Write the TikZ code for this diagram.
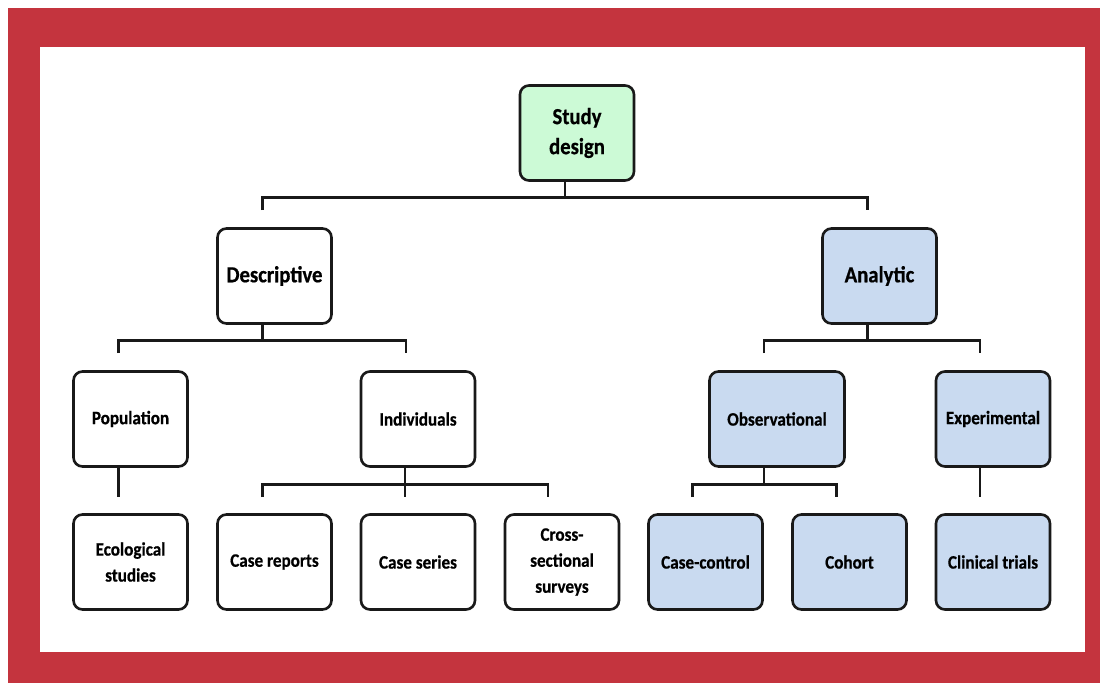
\documentclass[tikz,border=0pt]{standalone}
\usepackage{fontspec}
\setmainfont{Carlito}
\newfontfamily\condfont[FakeStretch=0.9,FakeBold=0.6]{Carlito}
\usetikzlibrary{calc}
\definecolor{frame}{RGB}{196,52,62}
\definecolor{sdgreen}{RGB}{204,250,214}
\definecolor{anblue}{RGB}{201,218,240}
\tikzset{
  box/.style={draw=black!90, line width=2.6pt, rounded corners=9pt, minimum width=114pt, minimum height=95pt, align=center, inner sep=2pt, font=\condfont\bfseries\fontsize{19}{26}\selectfont},
  big/.style={font=\condfont\bfseries\fontsize{23}{30}\selectfont},
  conn/.style={draw=black!90, line width=2.6pt},
}
\begin{document}
\begin{tikzpicture}[x=1pt,y=-1pt]
\useasboundingbox (0,0) rectangle (1104,683);
\fill[white] (0,0) rectangle (1104,683);
\fill[frame] (8,8) rectangle (1100,683);
\fill[white] (40,47) rectangle (1085,652);
% level 0
\node[box,big,fill=sdgreen] (sd) at (577,133) {Study\\design};
% level 1
\node[box,big] (desc) at (274.5,276) {Descriptive};
\node[box,big,fill=anblue] (ana) at (879.5,276) {Analytic};
% level 2
\node[box] (pop) at (130.5,419) {Population};
\node[box] (ind) at (418,419) {Individuals};
\node[box,fill=anblue,minimum width=135pt] (obs) at (777,419) {Observational};
\node[box,fill=anblue] (exp) at (993,419) {Experimental};
% level 3
\node[box] (eco) at (130.5,562) {Ecological\\studies};
\node[box] (cr) at (274.5,562) {Case reports};
\node[box] (cs) at (418,562) {Case series};
\node[box] (css) at (562,562) {Cross-\\sectional\\surveys};
\node[box,fill=anblue] (cc) at (705.5,562) {Case-control};
\node[box,fill=anblue] (coh) at (849.5,562) {Cohort};
\node[box,fill=anblue] (ct) at (993,562) {Clinical trials};
% connectors
\draw[conn] ($(sd.south)+(-12,0)$) -- ++(0,15);
\draw[conn] ($(desc.north)+(-12,-17)$) -- ++(0,-13) -| ($(ana.north)+(-12,-17)$);
\draw[conn] ($(desc.south)+(-12,0)$) -- ++(0,15);
\draw[conn] ($(pop.north)+(-12,-17)$) -- ++(0,-13) -| ($(ind.north)+(-12,-17)$);
\draw[conn] ($(ana.south)+(-12,0)$) -- ++(0,15);
\draw[conn] ($(obs.north)+(-13,-17)$) -- ++(0,-13) -| ($(exp.north)+(-13,-17)$);
\draw[conn] ($(pop.south)+(-12,0)$) -- ($(eco.north)+(-12,-16)$);
\draw[conn] ($(ind.south)+(-13,0)$) -- ++(0,16);
\draw[conn] ($(cr.north)+(-12,-16)$) -- ++(0,-13) -| ($(css.north)+(-14,-16)$);
\draw[conn] ($(cs.north)+(-13,-29)$) -- ($(cs.north)+(-13,-16)$);
\draw[conn] ($(obs.south)+(-13,0)$) -- ++(0,16);
\draw[conn] ($(cc.north)+(-13,-16)$) -- ++(0,-13) -| ($(coh.north)+(-13,-16)$);
\draw[conn] ($(exp.south)+(-13,0)$) -- ($(ct.north)+(-13,-16)$);
\end{tikzpicture}
\end{document}
